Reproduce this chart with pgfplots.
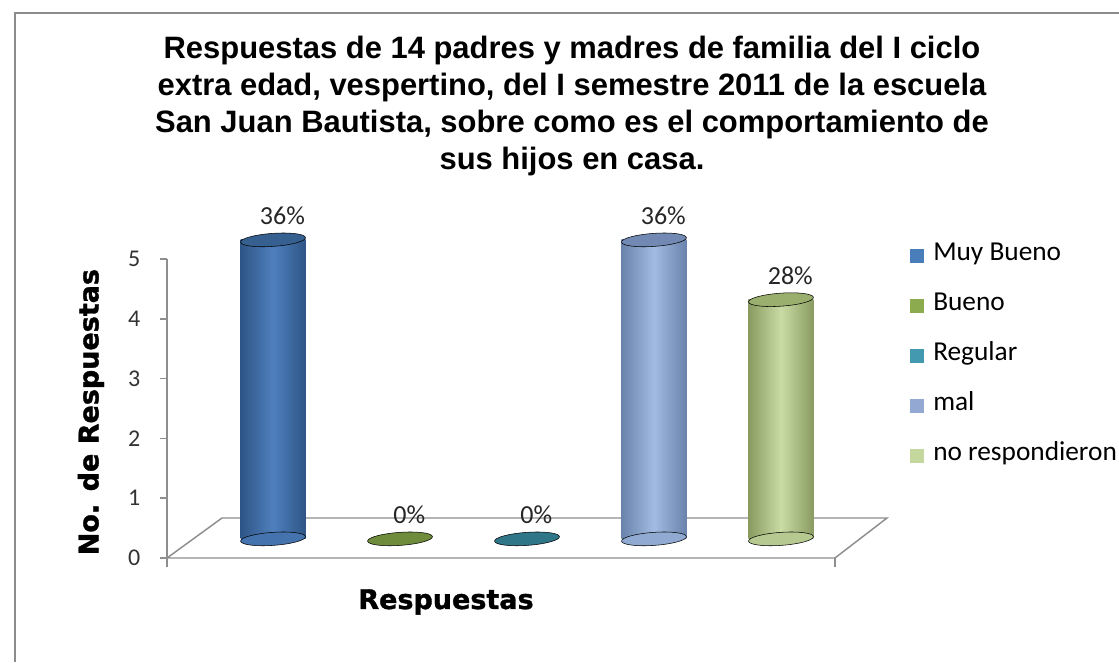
\documentclass[border=0pt]{standalone}
\usepackage{pgfplots}
\pgfplotsset{compat=1.18}
\usepackage{fontspec}
\setmainfont{Carlito}
\newfontfamily\titlefont{Liberation Sans}
\newfontfamily\labfont{DejaVu Sans}[BoldFeatures={FakeBold=1.3}]

\definecolor{framegray}{HTML}{8C8C8C}
\definecolor{axgray}{HTML}{8E8E8E}
% Muy Bueno
\definecolor{blE}{HTML}{2E5585}
\definecolor{blM}{HTML}{4F80BE}
\definecolor{blT}{HTML}{36608F}
\definecolor{blL}{HTML}{4A7EBB}
% Bueno
\definecolor{grT}{HTML}{6E8C3C}
\definecolor{grL}{HTML}{8CAA4E}
% Regular
\definecolor{tqT}{HTML}{2E7688}
\definecolor{tqL}{HTML}{4299B0}
% mal
\definecolor{lbE}{HTML}{6A83AC}
\definecolor{lbM}{HTML}{A2BBE2}
\definecolor{lbT}{HTML}{7189B3}
\definecolor{lbL}{HTML}{93A9D4}
% no respondieron
\definecolor{lgE}{HTML}{899B60}
\definecolor{lgM}{HTML}{C8DCA4}
\definecolor{lgT}{HTML}{9AAE6E}
\definecolor{lgL}{HTML}{C4D79D}

\pgfplotsset{
  cylbody/.style={forget plot, ybar, bar width=48.75pt, bar shift=0pt, draw=none, yshift=14.35pt},
  cylcap/.style={forget plot, only marks, mark=*, mark size=24.4pt, yshift=14.35pt,
     mark options={draw=none, fill=#1, rotate=4, yscale=0.2}},
  cyllab/.style={nodes near coords, point meta=explicit symbolic,
     every node near coord/.style={anchor=center, xshift=7pt, yshift=18pt,
       font=\fontsize{19.5}{22}\selectfont, text=black!85}},
}

\begin{document}
\begin{tikzpicture}
\path[use as bounding box] (0pt,0pt) rectangle (839.25pt,496.5pt);
\fill[white] (0pt,0pt) rectangle (839.25pt,496.5pt);
\draw[framegray, line width=1.5pt] (11.25pt,0pt) -- (11.25pt,486.75pt) -- (839.25pt,486.75pt);
\begin{axis}[
  at={(125.25pt,78pt)}, anchor=south west,
  scale only axis, width=540pt, height=224.25pt,
  xmin=-0.835, xmax=4.835, ymin=0, ymax=5,
  clip=false,
  axis y line*=left, axis x line*=bottom,
  x axis line style={draw=none},
  y axis line style={draw=axgray, line width=1.1pt},
  xtick=\empty,
  ytick={0,1,2,3,4,5},
  tick align=outside, major tick length=5.25pt,
  ytick style={draw=axgray, line width=1.1pt},
  /pgf/number format/assume math mode=true,
  yticklabel style={font=\fontsize{18}{20}\selectfont, text=black!80, anchor=east, inner sep=0pt},
  yticklabel shift=14.5pt,
  ylabel={No. de Respuestas},
  every axis y label/.style={at={(axis description cs:-0.1056,0.488)}, rotate=90, anchor=center,
     font=\labfont\bfseries\fontsize{20.25}{24}\selectfont},
  xlabel={Respuestas},
  every axis x label/.style={at={(axis description cs:0.3875,-0.147)}, anchor=center,
     font=\labfont\bfseries\fontsize{20.25}{24}\selectfont},
  title={Respuestas de 14 padres y madres de familia del I ciclo\\extra edad, vespertino, del I semestre 2011 de la escuela\\San Juan Bautista, sobre como es el comportamiento de\\sus hijos en casa.},
  every axis title/.style={at={(axis description cs:0.5625,1.513)}, anchor=center, align=center,
     font=\titlefont\bfseries\fontsize{23.2}{27.75}\selectfont},
  legend image code/.code={\fill[#1, draw=none] (0pt,-5.25pt) rectangle (10.5pt,5.25pt);},
  legend cell align=left,
  legend style={draw=none, fill=none, at={(axis description cs:1.0319,1.0435)}, anchor=north west,
     inner sep=0pt, row sep=23.5pt, font=\fontsize{20.5}{23}\selectfont,
     nodes={inner sep=0pt, text height=10.5pt, text depth=3.5pt},
     /tikz/every odd column/.style={column sep=6.75pt}},
]
% floor
\addplot[forget plot, draw=axgray, line width=1.1pt, mark=none]
  coordinates {(-0.835,0) (4.425,0) (4.835,0.669) (-0.402,0.669) (-0.835,0)};
\addplot[forget plot, draw=axgray, line width=1.1pt, mark=none] coordinates {(-0.835,0) (-0.835,-0.15)};
\addplot[forget plot, draw=axgray, line width=1.1pt, mark=none] coordinates {(4.425,0) (4.425,-0.15)};

% Muy Bueno
\addplot[cylcap=blE!30!blM] coordinates {(0,0)};
\addplot[cylbody, left color=blE, right color=blE, middle color=blM] coordinates {(0,5)};
\addplot[cylcap=blT, cyllab] coordinates {(0,5) [36\%]};
% Bueno
\addplot[cylcap=grT, cyllab] coordinates {(1,0) [0\%]};
% Regular
\addplot[cylcap=tqT, cyllab] coordinates {(2,0) [0\%]};
% mal
\addplot[cylcap=lbE!30!lbM] coordinates {(3,0)};
\addplot[cylbody, left color=lbE, right color=lbE, middle color=lbM] coordinates {(3,5)};
\addplot[cylcap=lbT, cyllab] coordinates {(3,5) [36\%]};
% no respondieron
\addplot[cylcap=lgE!30!lgM] coordinates {(4,0)};
\addplot[cylbody, left color=lgE, right color=lgE, middle color=lgM] coordinates {(4,4)};
\addplot[cylcap=lgT, cyllab] coordinates {(4,4) [28\%]};

\addlegendimage{fill=blL}
\addlegendentry{Muy Bueno}
\addlegendimage{fill=grL}
\addlegendentry{Bueno}
\addlegendimage{fill=tqL}
\addlegendentry{Regular}
\addlegendimage{fill=lbL}
\addlegendentry{mal}
\addlegendimage{fill=lgL}
\addlegendentry{no respondieron}
\end{axis}
\end{tikzpicture}
\end{document}
